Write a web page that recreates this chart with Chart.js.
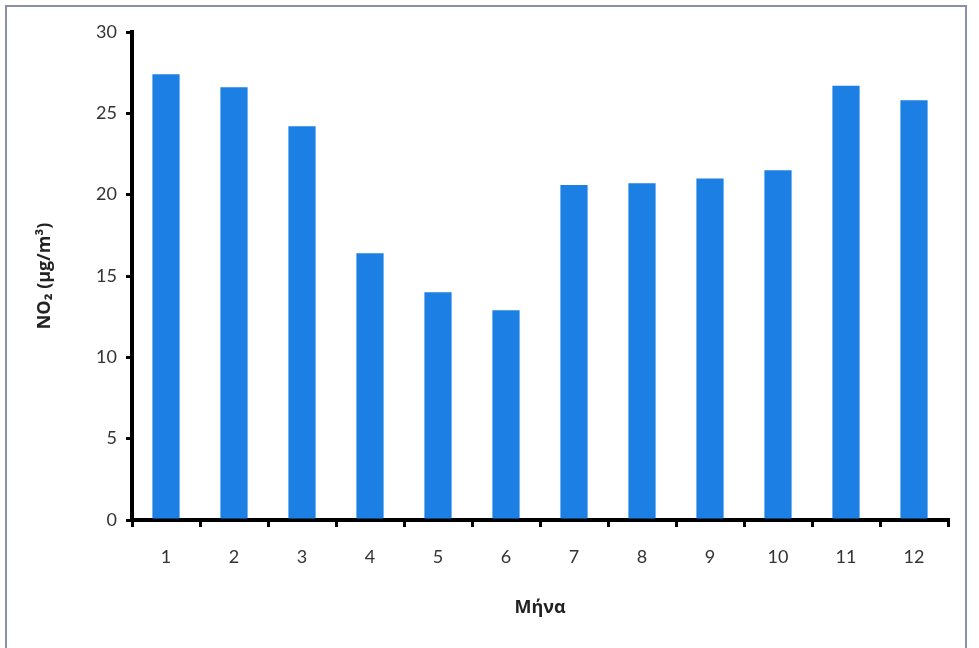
<!DOCTYPE html>
<html>
<head>
<meta charset="utf-8">
<script src="https://cdn.jsdelivr.net/npm/chart.js@4.4.1/dist/chart.umd.min.js"></script>
<style>
  html, body { margin: 0; padding: 0; background: #ffffff; }
  #wrap { position: relative; width: 979px; height: 648px; overflow: hidden; }
  #frame { position: absolute; left: 5px; top: 5px; width: 962px; height: 700px; border: 2px solid #8b90a8; box-sizing: border-box; }
  canvas { position: absolute; left: 0; top: 0; }
</style>
</head>
<body>
<div id="wrap">
  <div id="frame"></div>
  <canvas id="c" width="979" height="648"></canvas>
</div>
<script>
const months = ['1','2','3','4','5','6','7','8','9','10','11','12'];
const no2Values = [27.4, 26.6, 24.2, 16.4, 14.0, 12.9, 20.6, 20.7, 21.0, 21.5, 26.7, 25.8];
const yTicks = [0, 5, 10, 15, 20, 25, 30];

const ctx = document.getElementById('c').getContext('2d');
new Chart(ctx, {
  type: 'bar',
  data: {
    labels: months,
    datasets: [{
      data: no2Values,
      backgroundColor: '#1b7fe3',
      borderWidth: 0,
      barPercentage: 0.4,
      categoryPercentage: 1.0
    }]
  },
  options: {
    responsive: false,
    animation: false,
    devicePixelRatio: 1,
    layout: { padding: { top: 32, right: 31, bottom: 0, left: 0 } },
    plugins: { legend: { display: false }, tooltip: { enabled: false } },
    scales: {
      x: {
        offset: true,
        grid: { display: true, drawOnChartArea: false, offset: true, tickLength: 7, color: '#000', lineWidth: 3 },
        border: { display: true, color: '#000', width: 4 },
        ticks: { color: '#333', font: { family: 'Lato', size: 18 }, padding: 19, maxRotation: 0 },
        title: { display: true, text: 'Μήνα', color: '#222', font: { family: 'Open Sans', size: 18, weight: 'bold' }, padding: { top: 0, bottom: 29 } },
        afterFit: (s) => { s.height = 128; }
      },
      y: {
        min: 0, max: 30,
        afterBuildTicks: (s) => { s.ticks = yTicks.map(v => ({ value: v })); },
        grid: { display: true, drawOnChartArea: false, tickLength: 6, color: '#000', lineWidth: 3 },
        border: { display: true, color: '#000', width: 4 },
        ticks: { color: '#333', font: { family: 'Lato', size: 18 }, padding: 9 },
        title: { display: true, text: 'NO₂ (μg/m³)', color: '#222', font: { family: 'Open Sans', size: 18, weight: 'bold' }, padding: { top: 34, bottom: 0 } },
        afterFit: (s) => { s.width = 132; }
      }
    }
  }
});
</script>
</body>
</html>
